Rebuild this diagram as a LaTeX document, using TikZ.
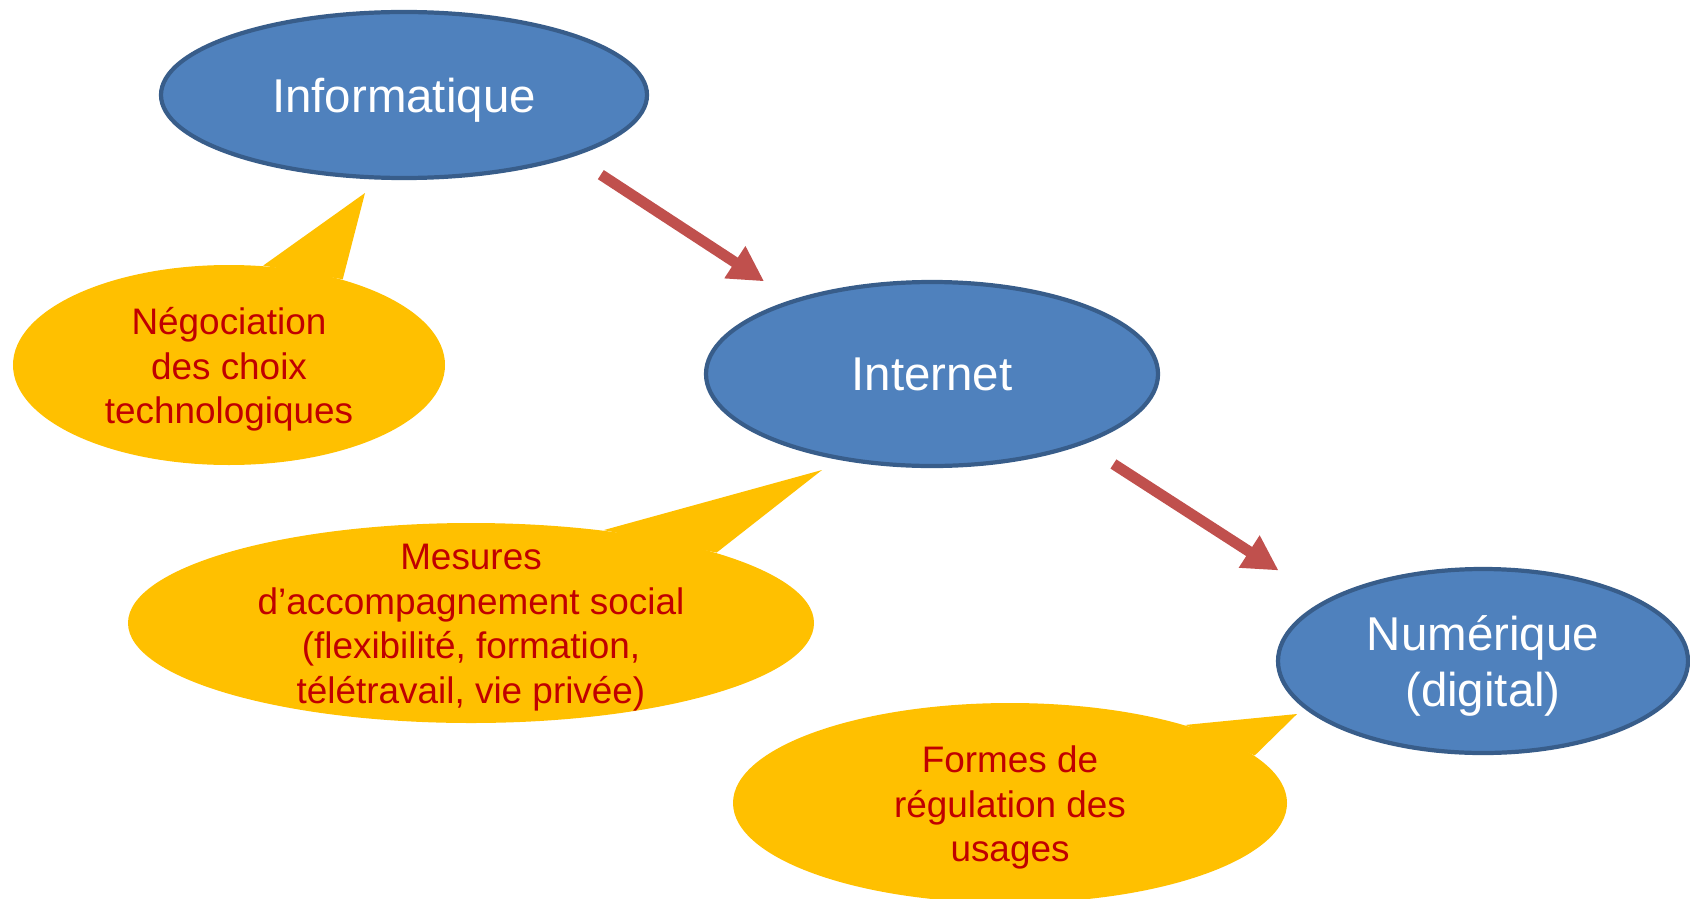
\documentclass[tikz,border=0pt]{standalone}
\usepackage{fontspec}
\setmainfont{Liberation Sans}
\usetikzlibrary{shapes.geometric,arrows.meta}
\definecolor{bluefill}{HTML}{4F81BD}
\definecolor{blueline}{HTML}{385D8A}
\definecolor{bubblefill}{HTML}{FFC000}
\definecolor{bubbletext}{HTML}{C00000}
\definecolor{arrowred}{HTML}{C0504D}

\begin{document}
\begin{tikzpicture}[
		stage/.style={ellipse, draw=blueline, line width=1.2pt, fill=bluefill, inner sep=0pt, text depth=0pt, text=white, align=center, font=\fontsize{13.5}{16.2}\selectfont},
		bubble/.style={ellipse, fill=bubblefill, inner sep=0pt, minimum height=2cm},
		bubbletxt/.style={text=bubbletext, align=center, yshift=-0.045cm, font=\fontsize{10.5}{12.7}\selectfont},
		flow/.style={draw=arrowred, line width=3.1pt, -{Triangle[length=3.5mm, width=3.6mm]}}
	]
		\useasboundingbox (0,0) rectangle (16.9,-8.98);
		\clip (0,0) rectangle (16.9,-8.98);

		%stages
		\node[stage, minimum width=4.86cm, minimum height=1.66cm] (info) at (4.04,-0.95) {Informatique};
		\node[stage, minimum width=4.52cm, minimum height=1.84cm] (inter) at (9.32,-3.74) {Internet};
		\node[stage, minimum width=4.10cm, minimum height=1.84cm] (num) at (14.83,-6.61) {Numérique\\(digital)};

		\draw[flow, shorten <=0.33cm, shorten >=0.335cm] (info.-20.8) -- (inter.152.4);
		\draw[flow, shorten <=0.36cm, shorten >=0.55cm] (inter.-25.7) -- (num.159.9);

		%bubbles
		\node[bubble, minimum width=4.32cm] (neg) at (2.29,-3.65) {};
		\node[bubble, minimum width=6.86cm] (mes) at (4.71,-6.23) {};
		\node[bubble, minimum width=5.54cm] (reg) at (10.10,-8.03) {};

		\coordinate (neg-tip) at (3.65,-1.93);
		\coordinate (mes-tip) at (8.22,-4.70);
		\coordinate (reg-tip) at (12.97,-7.14);

		\foreach \n/\a/\b in {neg/71.2/37.3, mes/35.6/16.2, reg/24.9/11.1}{
			\fill[bubblefill] (\n.\a) -- (\n-tip) -- (\n.\b) -- cycle;
		}

		\node[bubbletxt] (negtext) at (neg) {Négociation\\des choix\\technologiques};
		\node[bubbletxt] (mestext) at (mes) {Mesures\\d’accompagnement social\\(flexibilité, formation,\\télétravail, vie privée)};
		\node[bubbletxt] (regtext) at (reg) {Formes de\\régulation des\\usages};

	\end{tikzpicture}
\end{document}
